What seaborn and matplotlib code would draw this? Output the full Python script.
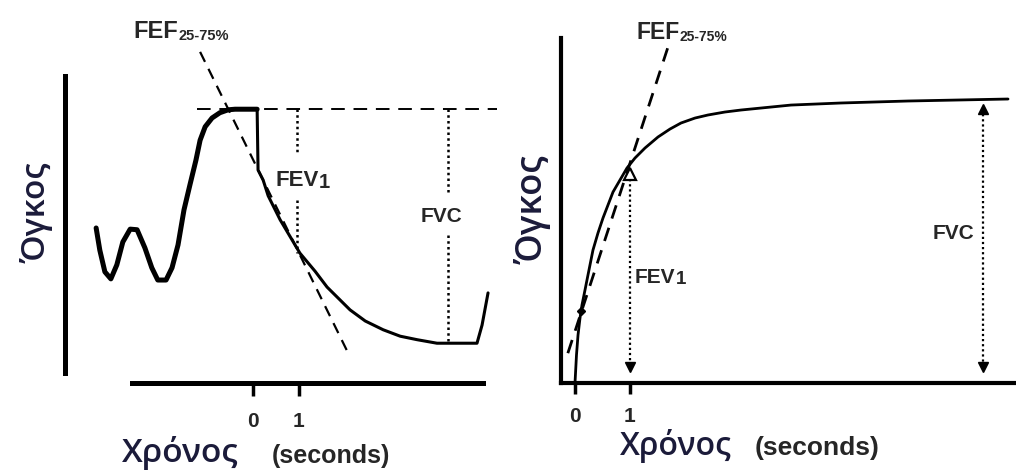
import numpy as np
import pandas as pd
import matplotlib
matplotlib.use('Agg')
import matplotlib.pyplot as plt
import seaborn as sns

# ---- left panel: tidal breathing then forced expiration (t in s, volume in L)
tidal_t = [-3.41, -3.33, -3.22, -3.09, -2.96, -2.83, -2.67, -2.52, -2.35, -2.20, -2.07,
           -1.89, -1.76, -1.63, -1.50, -1.37, -1.24, -1.15, -1.04, -0.89, -0.72, -0.54,
           -0.39, 0.09]
tidal_v = [2.65, 2.27, 1.90, 1.78, 2.02, 2.41, 2.63, 2.62, 2.31, 1.97, 1.76,
           1.76, 1.97, 2.36, 2.96, 3.39, 3.81, 4.15, 4.38, 4.53, 4.62, 4.67,
           4.68, 4.68]
forced_t = [0.09, 0.11, 0.22, 0.33, 0.59, 1.02, 1.35, 1.61, 2.11, 2.44, 2.83, 3.20, 3.57,
            4.00, 4.87, 4.98, 5.11]
forced_v = [4.68, 3.64, 3.47, 3.20, 2.79, 2.22, 1.91, 1.64, 1.25, 1.06, 0.91, 0.80, 0.74,
            0.68, 0.68, 0.99, 1.54]

fef_left_t = [-1.15, 2.07]
fef_left_v = [5.66, 0.51]
peak_left_t = [-1.22, 5.30]
peak_left_v = [4.68, 4.68]
fev1_left_t = 0.96
fev1_left_top = [4.68, 3.93]
fev1_left_bot = [3.13, 2.22]
fvc_left_t = 4.24
fvc_left_top = [4.68, 3.21]
fvc_left_bot = [2.53, 0.68]

# ---- right panel: volume-time curve from start of forced expiration
curve_t = [0.000, 0.027, 0.055, 0.091, 0.127, 0.182, 0.236, 0.327, 0.418, 0.509, 0.691,
           0.818, 0.945, 1.091, 1.273, 1.509, 1.727, 1.927, 2.182, 2.418, 2.727, 3.018,
           3.927, 4.836, 6.055, 7.873]
curve_v = [0.000, 0.394, 0.676, 0.915, 1.099, 1.310, 1.521, 1.873, 2.113, 2.324, 2.690,
           2.859, 3.028, 3.169, 3.310, 3.465, 3.577, 3.662, 3.732, 3.775, 3.817, 3.845,
           3.915, 3.944, 3.972, 4.000]
fef_right_t = [-0.13, 1.69]
fef_right_v = [0.42, 4.73]
fev1_right_t = 1.0
fev1_right_v = [2.95, 0.22]
fvc_right_t = 7.42
fvc_right_v = [3.86, 0.22]

tick_pos = [0, 1]
tick_lab = ['0', '1']

sns.set_theme(style='white')
plt.rcParams['font.family'] = ['Liberation Sans', 'DejaVu Sans']

greek = '#1b1b3a'
greek_font = ['Open Sans', 'DejaVu Sans']
W, H = 1016, 471
fig = plt.figure(figsize=(W / 100, H / 100), dpi=100)


def box(x0, y0, x1, y1):
    return [x0 / W, 1 - y1 / H, (x1 - x0) / W, (y1 - y0) / H]


def sub_label(ax, x, y, main, sub, size, subsize, ha='left', dy=0):
    t = ax.text(x, y, main, fontsize=size, fontweight='bold', ha=ha, va='center')
    ax.annotate(sub, xy=(1, 0), xycoords=t, xytext=(0.5, dy), textcoords='offset points',
                fontsize=subsize, fontweight='bold', ha='left', va='bottom')
    return t


dotted = (0, (1, 1.3))

# ================= left panel
ax1 = fig.add_axes(box(65, 20, 500, 383))
sns.lineplot(x=tidal_t, y=tidal_v, ax=ax1, color='black', lw=3.6, sort=False, estimator=None)
sns.lineplot(x=forced_t, y=forced_v, ax=ax1, color='black', lw=2.2, sort=False, estimator=None)
ax1.plot(fef_left_t, fef_left_v, color='black', lw=1.6, dashes=(5, 3.5))
ax1.plot(peak_left_t, peak_left_v, color='black', lw=1.4, dashes=(7, 4.5))
ax1.plot([fev1_left_t] * 2, fev1_left_top, color='black', lw=1.8, ls=dotted)
ax1.plot([fev1_left_t] * 2, fev1_left_bot, color='black', lw=1.8, ls=dotted)
ax1.plot([fvc_left_t] * 2, fvc_left_top, color='black', lw=1.8, ls=dotted)
ax1.plot([fvc_left_t] * 2, fvc_left_bot, color='black', lw=1.8, ls=dotted)

ax1.set_xlim(-4.087, 5.37)
ax1.set_ylim(0, 6.205)
for s in ['top', 'right']:
    ax1.spines[s].set_visible(False)
ax1.spines['left'].set_bounds(0.17, 5.25)
ax1.spines['bottom'].set_bounds(-2.63, 5.0)
for s in ['left', 'bottom']:
    ax1.spines[s].set_linewidth(3.6)
    ax1.spines[s].set_color('black')
ax1.set_yticks([])
ax1.set_xticks(tick_pos, tick_lab)
ax1.tick_params(axis='x', bottom=True, length=9, width=2.5, pad=12, labelsize=15, color='black')
for lab in ax1.get_xticklabels():
    lab.set_fontweight('bold')

sub_label(ax1, -2.61, 6.0, 'FEF', '25-75%', 17, 10.5)
sub_label(ax1, 0.48, 3.47, 'FEV', '1', 16, 14.5, dy=-1)
ax1.text(4.10, 2.85, 'FVC', fontsize=15, fontweight='bold', ha='center', va='center')

# ================= right panel
ax2 = fig.add_axes(box(561, 20, 1016, 383))
sns.lineplot(x=curve_t, y=curve_v, ax=ax2, color='black', lw=2.0, sort=False, estimator=None)
ax2.plot(fef_right_t, fef_right_v, color='black', lw=2.0, dashes=(5, 3.5))
ax2.plot([fev1_right_t] * 2, fev1_right_v, color='black', lw=1.6, ls=dotted)
ax2.plot([fvc_right_t] * 2, fvc_right_v, color='black', lw=1.6, ls=dotted)
ax2.plot([fev1_right_t], [fev1_right_v[0]], marker='^', ms=8, mfc='white', mec='black', mew=1.6)
ax2.plot([fvc_right_t], [fvc_right_v[0]], marker='^', ms=7, color='black')
ax2.plot([fev1_right_t, fvc_right_t], [fev1_right_v[1], fvc_right_v[1]], ls='none',
         marker='v', ms=7, color='black')
ax2.plot([0.11], [1.02], marker='D', ms=4, color='black')

ax2.set_xlim(-0.2545, 8.018)
ax2.set_ylim(0, 5.113)
for s in ['top', 'right']:
    ax2.spines[s].set_visible(False)
ax2.spines['left'].set_bounds(0, 4.86)
for s in ['left', 'bottom']:
    ax2.spines[s].set_linewidth(3.0)
    ax2.spines[s].set_color('black')
ax2.set_yticks([])
ax2.set_xticks(tick_pos, tick_lab)
ax2.tick_params(axis='x', bottom=True, length=8, width=2.5, pad=9, labelsize=15, color='black')
for lab in ax2.get_xticklabels():
    lab.set_fontweight('bold')

sub_label(ax2, 1.11, 4.94, 'FEF', '25-75%', 16.5, 10)
sub_label(ax2, 1.09, 1.49, 'FEV', '1', 15, 13.5, dy=-1)
ax2.text(7.27, 2.11, 'FVC', fontsize=15, fontweight='bold', ha='right', va='center')

for ax in (ax1, ax2):
    ax.set_facecolor('white')
    for ln in ax.lines:
        ln.set_clip_on(False)

# axis titles (Greek word + English unit)
fig.text(122 / W, 1 - 462 / H, 'Χρόνος', fontsize=24, color=greek, family=greek_font,
         fontweight='semibold', ha='left', va='baseline')
fig.text(272 / W, 1 - 463 / H, '(seconds)', fontsize=18, fontweight='bold', ha='left', va='baseline')
fig.text(37 / W, 1 - 213 / H, 'Όγκος', fontsize=24, color=greek, family=greek_font,
         fontweight='semibold', rotation=90, ha='center', va='center')

fig.text(620 / W, 1 - 455 / H, 'Χρόνος', fontsize=23, color=greek, family=greek_font,
         fontweight='semibold', ha='left', va='baseline')
fig.text(755 / W, 1 - 455 / H, '(seconds)', fontsize=19, fontweight='bold', ha='left', va='baseline')
fig.text(533 / W, 1 - 210 / H, 'Όγκος', fontsize=26, color=greek, family=greek_font,
         fontweight='semibold', rotation=90, ha='center', va='center')

fig.savefig('out.png', dpi=100, facecolor='white')
